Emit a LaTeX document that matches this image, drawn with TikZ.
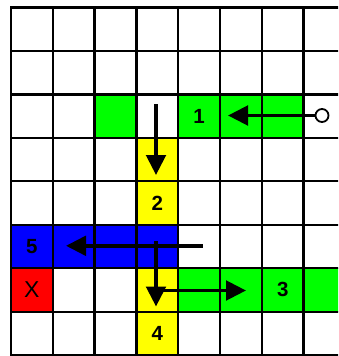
\documentclass[tikz,border=0pt]{standalone}
\usepackage{fontspec}
\setmainfont{Liberation Sans}
\usetikzlibrary{arrows.meta}
\definecolor{cgreen}{RGB}{0,255,0}
\definecolor{cyellow}{RGB}{255,255,0}
\definecolor{cblue}{RGB}{0,0,255}
\definecolor{cred}{RGB}{255,0,0}
\tikzset{
  cell/.style={minimum width=41.8pt, minimum height=43.45pt, inner sep=0pt, outer sep=0pt, anchor=north west, font=\fontsize{20.5}{20.5}\selectfont\bfseries},
  gridline/.style={line width=2.3pt, black},
  move/.style={line width=3.6pt, -{Triangle[length=20pt,width=19.5pt]}},
  origin/.style={circle, draw, line width=1.8pt, minimum size=13pt, inner sep=0pt, fill=white}
}
\begin{document}
\begin{tikzpicture}[x=1pt,y=-1pt]
\useasboundingbox (0,0) rectangle (338,356);
\begin{scope}
\clip (0,0) rectangle (338,356);
\fill[white] (0,0) rectangle (338,356);
% coloured cells
\node[cell, fill=cgreen] (g0) at (94.6,94.4) {};
\node[cell, fill=cgreen] (c1) at (178.2,94.4) {1};
\node[cell, fill=cgreen] (g2) at (220,94.4) {};
\node[cell, fill=cgreen] (g3) at (261.8,94.4) {};
\node[cell, fill=cyellow] (y1) at (136.4,137.85) {};
\node[cell, fill=cyellow] (c2) at (136.4,181.3) {2};
\node[cell, fill=cblue] (c5) at (11,224.75) {5};
\node[cell, fill=cblue] (b1) at (52.8,224.75) {};
\node[cell, fill=cblue] (b2) at (94.6,224.75) {};
\node[cell, fill=cblue] (b3) at (136.4,224.75) {};
\node[cell, fill=cred, font=\fontsize{23}{23}\selectfont] (cx) at (11,268.2) {X};
\node[cell, fill=cyellow] (y2) at (136.4,268.2) {};
\node[cell, fill=cgreen] (g4) at (178.2,268.2) {};
\node[cell, fill=cgreen] (g5) at (220,268.2) {};
\node[cell, fill=cgreen] (c3) at (261.8,268.2) {3};
\node[cell, fill=cgreen] (g6) at (303.6,268.2) {};
\node[cell, fill=cyellow] (c4) at (136.4,311.65) {4};
% grid
\foreach \i in {0,...,7} {
  \draw[gridline] ({11+41.8*\i},7.5) -- ({11+41.8*\i},355.1);
}
\foreach \j in {0,...,8} {
  \draw[gridline] (10,{7.5+43.45*\j}) -- (340,{7.5+43.45*\j});
}
\end{scope}
% moves
\node[origin] (o) at (322,115.5) {};
\coordinate (t1) at (228,115.5);
\coordinate (s2) at (156,104);
\coordinate (t2) at (156,175);
\coordinate (s3) at (202.5,245.8);
\coordinate (t3) at (66,245.8);
\coordinate (s4) at (156,241);
\coordinate (t4) at (156,306.5);
\coordinate (s5) at (156,290.5);
\coordinate (t5) at (246,290.5);
\draw[move] (o) -- (t1);
\draw[move] (s2) -- (t2);
\draw[move] (s3) -- (t3);
\draw[move] (s4) -- (t4);
\draw[move] (s5) -- (t5);
\end{tikzpicture}
\end{document}
